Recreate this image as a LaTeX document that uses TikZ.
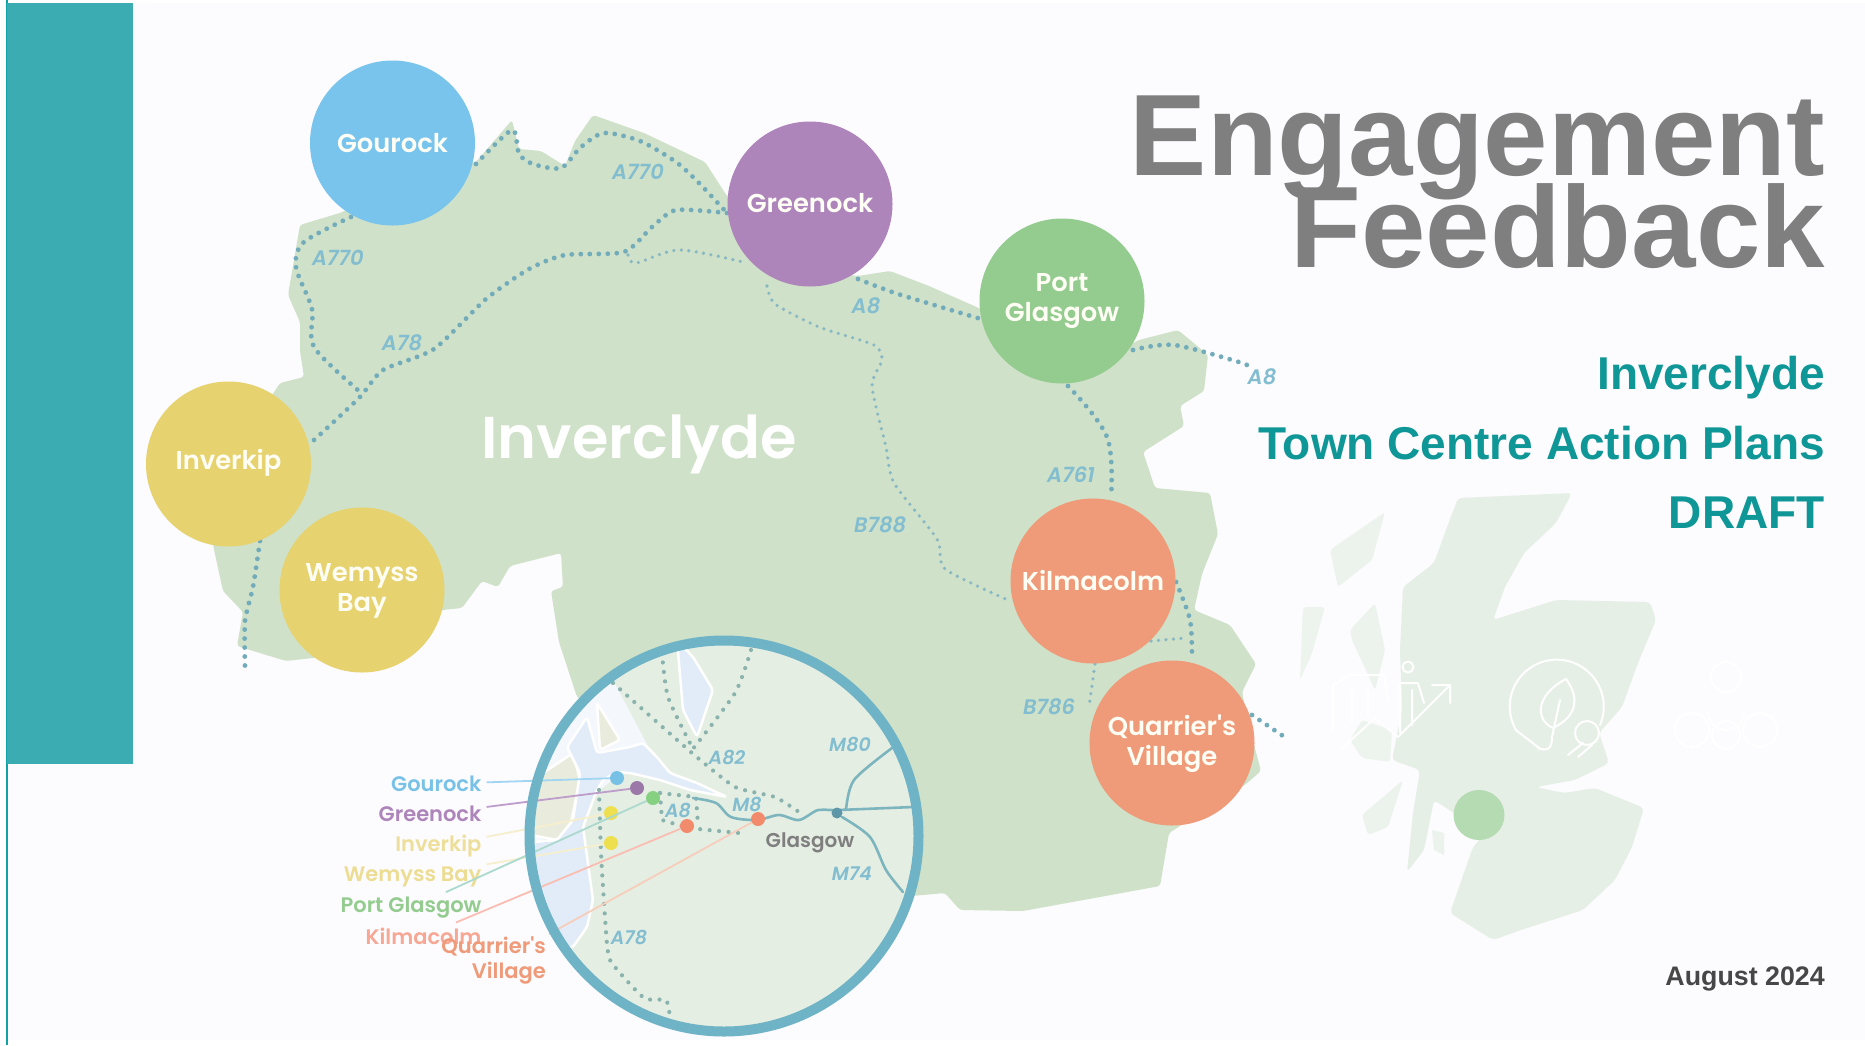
\documentclass[tikz,border=0pt]{standalone}
\usepackage{fontspec}
\setmainfont{Liberation Sans}
\newfontfamily\mapfont{Poppins}[BoldFont={Poppins SemiBold},BoldItalicFont={Poppins SemiBold Italic}]
\usetikzlibrary{shapes.geometric}
\definecolor{bgc}{HTML}{FCFBFE}
\definecolor{tealbar}{HTML}{3AACB2}
\definecolor{tealline}{HTML}{0FA3A8}
\definecolor{landc}{HTML}{CFE1C8}
\definecolor{insetc}{HTML}{E5EEE3}
\definecolor{waterc}{HTML}{E2ECF8}
\definecolor{patchc}{HTML}{E9ECDD}
\definecolor{ringc}{HTML}{6FB3C6}
\definecolor{roadc}{HTML}{72ABBA}
\definecolor{inroadc}{HTML}{8AB3AE}
\definecolor{motorc}{HTML}{7DB5BE}
\definecolor{roadt}{HTML}{82BDD0}
\definecolor{scot}{HTML}{E6EFE6}
\definecolor{gou}{HTML}{79C4EC}
\definecolor{gre}{HTML}{AD85BB}
\definecolor{por}{HTML}{94CC8F}
\definecolor{inv}{HTML}{E6D26F}
\definecolor{kil}{HTML}{EF9A78}
\definecolor{titlegrey}{HTML}{7F7F7F}
\definecolor{subteal}{HTML}{0F9696}
\tikzset{
  town/.style={circle,minimum size=165pt,inner sep=0pt},
  townlabel/.style={inner sep=0pt,align=center,text=white!96!yellow,font=\mapfont\bfseries\fontsize{25.8}{30}\selectfont},
  road/.style={draw=roadc,line width=4.8pt,line cap=round,dash pattern=on 0pt off 9pt},
  thinroad/.style={draw=roadc!85!white,line width=3.6pt,line cap=round,dash pattern=on 0pt off 7.5pt},
  inroad/.style={draw=inroadc,line width=4.2pt,line cap=round,dash pattern=on 0pt off 9.5pt},
  motorway/.style={draw=motorc,line width=2.6pt,line cap=round,line join=round},
  roadname/.style={text=roadt,font=\mapfont\bfseries\itshape\fontsize{21}{24}\selectfont,inner sep=0pt},
  inname/.style={roadname,font=\mapfont\bfseries\itshape\fontsize{19}{22}\selectfont},
  mapname/.style={anchor=east,inner sep=5pt,font=\mapfont\bfseries\fontsize{21}{25}\selectfont},
  leader/.style={line width=1.8pt},
  spot/.style={circle,minimum size=14pt,inner sep=0pt},
  titletext/.style={anchor=base east,inner sep=0pt,text=titlegrey,font=\bfseries\fontsize{115.8}{116}\selectfont},
  subtext/.style={anchor=base east,inner sep=0pt,text=subteal,font=\bfseries\fontsize{46}{46}\selectfont},
  icon/.style={draw=white,line width=2pt,line cap=round,line join=round},
}
\begin{document}
\begin{tikzpicture}[x=1pt,y=-1pt]
\useasboundingbox (0,0) rectangle (1865,1045);
\fill[white] (0,0) rectangle (1865,1045);
\fill[bgc] (7,3) rectangle (1865,1040);
\fill[tealline] (6,0) rectangle (8.3,1045);
\fill[tealbar] (7,3) rectangle (133,763.5);

% Scotland
\fill[scot,rounded corners=4pt] (1458,498) -- (1572,493) -- (1556,523) -- (1524,553) -- (1505,587) -- (1493,620) -- (1556,600) -- (1650,602) -- (1656,620) -- (1638,663) -- (1622,707) -- (1599,733) -- (1609,763) -- (1575,780) -- (1536,787) -- (1564,793) -- (1595,788) -- (1644,808) -- (1632,847) -- (1615,880) -- (1583,910) -- (1521,930) -- (1493,940) -- (1450,913) -- (1473,847) -- (1481,838) -- (1454,813) -- (1434,800) -- (1424,850) -- (1407,872) -- (1413,813) -- (1420,770) -- (1392,760) -- (1402,710) -- (1400,650) -- (1403,587) -- (1434,563) -- (1446,530) -- cycle;
\fill[scot!75!white,rounded corners=3pt] (1330,550) -- (1385,512) -- (1372,560) -- (1338,587) -- cycle;
\fill[scot!70!white,rounded corners=3pt] (1303,607) -- (1325,607) -- (1312,653) -- (1300,680) -- cycle;
\fill[scot!75!white,rounded corners=3pt] (1350,630) -- (1375,603) -- (1385,650) -- (1375,690) -- (1352,640) -- cycle;
\fill[scot!75!white,rounded corners=3pt] (1362,815) -- (1403,780) -- (1388,827) -- (1368,835) -- cycle;
\fill[scot!75!white] (1432,830) -- (1444,833) -- (1444,855) -- (1434,850) -- cycle;
\fill[scot!70!white,rounded corners=3pt] (1350,740) -- (1362,720) -- (1392,730) -- (1390,762) -- (1362,758) -- cycle;
\fill[por!70!white] (1479,815) ellipse (25.5 and 25);

% icons
\draw[icon] (1340,750) -- (1375,718) -- (1398,737) -- (1450,685) (1432,685) -- (1450,685) -- (1450,703);
\draw[icon] (1408,667) circle (5.5);
\draw[icon] (1400,733) -- (1400,683) -- (1418,683) -- (1424,703) (1412,690) -- (1412,725);
\draw[icon] (1333,730) -- (1333,685) -- (1350,675) -- (1384,675) -- (1388,700);
\draw[icon] (1352,722) -- (1352,690) (1368,715) -- (1368,690);
\draw[icon] (1600,725) arc (23:-210:47) .. controls (1535,745) and (1545,752) .. (1538,748) .. controls (1548,752) and (1552,748) .. (1552,737);
\draw[icon] (1566,679) .. controls (1578,695) and (1580,715) .. (1553,728) .. controls (1535,720) and (1535,695) .. (1566,679) -- cycle;
\draw[icon] (1560,700) -- (1552,737);
\draw[icon] (1587,733) circle (12);
\draw[icon] (1583,743) -- (1568,755) (1592,745) -- (1578,757);
\draw[icon] (1726,677) circle (15);
\draw[icon] (1708,712) arc (180:0:18);
\draw[icon] (1692,730) circle (17);
\draw[icon] (1760,730) circle (17);
\draw[icon] (1726,735) circle (14);

% Inverclyde land
\fill[landc,rounded corners=3pt] (476,162) -- (512,120) -- (519,149) -- (541,151) -- (565,166) -- (575,141) -- (593,115) -- (644,133) -- (705,162) -- (727,196) -- (810,270) -- (858,276) -- (890,271) -- (929,286) -- (981,309) -- (1062,380) -- (1139,340) -- (1178,330) -- (1208,355) -- (1204,391) -- (1180,406) -- (1184,426) -- (1143,452) -- (1155,488) -- (1210,493) -- (1218,534) -- (1202,574) -- (1194,610) -- (1230,625) -- (1256,664) -- (1242,692) -- (1250,730) -- (1261,771) -- (1246,784) -- (1169,833) -- (1160,886) -- (1100,897) -- (1023,911) -- (960,910) -- (945,893) -- (900,897) -- (700,800) -- (577,697) -- (559,642) -- (551,591) -- (563,587) -- (561,553) -- (510,566) -- (498,587) -- (482,581) -- (462,608) -- (442,610) -- (380,650) -- (304,659) -- (286,661) -- (237,646) -- (243,612) -- (223,591) -- (213,545) -- (228,463) -- (280,383) -- (304,377) -- (300,351) -- (300,322) -- (288,295) -- (300,225) -- (343,212) -- (392,180) -- cycle;

% main roads
\draw[road] plot[smooth,tension=0.45] coordinates {(476,164) (512,130) (519,154) (533,164) (561,168) (581,147) (604,133) (640,141) (676,162) (699,183) (727,213)};
\draw[road] plot[smooth,tension=0.4] coordinates {(727,213) (676,210) (652,227) (624,252) (565,255) (529,269) (486,299) (434,349) (383,370) (359,398) (314,440)};
\draw[road] plot[smooth,tension=0.5] coordinates {(351,217) (304,242) (296,267) (312,309) (314,347) (359,391)};
\draw[thinroad] plot[smooth,tension=0.5] coordinates {(628,255) (636,263) (680,250) (747,263)};
\draw[thinroad] plot[smooth,tension=0.4] coordinates {(767,286) (775,304) (819,327) (874,345) (882,360) (872,386) (886,447) (894,483) (937,539) (945,569) (1008,600)};
\draw[road] plot[smooth,tension=0.4] coordinates {(858,279) (898,294) (981,319)};
\draw[road] plot[smooth,tension=0.5] coordinates {(1133,350) (1174,345) (1242,363) (1248,368)};
\draw[road] plot[smooth,tension=0.6] coordinates {(1068,386) (1107,437) (1111,498)};
\draw[road] plot[smooth,tension=0.5] coordinates {(1176,582) (1190,620) (1192,659)};
\draw[thinroad] plot[smooth] coordinates {(1095,664) (1089,707)};
\draw[thinroad] plot[smooth] coordinates {(1151,641) (1186,638)};
\draw[road] (1252,715) -- (1289,740);
\draw[road] plot[smooth,tension=0.4] coordinates {(260,541) (253,587) (245,621) (245,667)};

% road names
\node[roadname] at (638,172) {A770};
\node[roadname] at (338,258) {A770};
\node[roadname] at (402,343) {A78};
\node[roadname] at (866,306) {A8};
\node[roadname] at (1262,377) {A8};
\node[roadname] at (1071,475) {A761};
\node[roadname] at (880,525) {B788};
\node[roadname] at (1049,707) {B786};

\node[text=white,font=\mapfont\bfseries\fontsize{59}{62}\selectfont,inner sep=0pt] at (639,444) {Inverclyde};

% towns
\node[town,fill=gou] (gourock) at (392.5,143) {};
\node[town,fill=gre] (greenock) at (810,204) {};
\node[town,fill=por] (portg) at (1062,301) {};
\node[town,fill=inv] (inverkip) at (228.5,464) {};
\node[town,fill=inv] (wemyss) at (362,590) {};
\node[town,fill=kil] (kilmacolm) at (1093,581) {};
\node[town,fill=kil] (quarrier) at (1172,743) {};
\node[townlabel] at ([yshift=-0.5pt]gourock) {Gourock};
\node[townlabel] at ([yshift=0.5pt]greenock) {Greenock};
\node[townlabel] at ([yshift=-0.5pt]portg) {Port\\Glasgow};
\node[townlabel] at ([yshift=1pt]inverkip) {Inverkip};
\node[townlabel] at ([yshift=-1pt]wemyss) {Wemyss\\Bay};
\node[townlabel] at ([yshift=0.5pt]kilmacolm) {Kilmacolm};
\node[townlabel] at ([yshift=-0.5pt]quarrier) {Quarrier's\\Village};

% inset
\fill[insetc] (724,836) ellipse (197 and 198);
\begin{scope}
\clip (724,836) ellipse (197 and 198);
\fill[white!60!waterc] (520,700) -- (613,680) -- (650,750) -- (600,790) -- (520,860) -- cycle;
\fill[patchc,draw=white,line width=2.5pt,rounded corners=3pt] (597,703) -- (620,740) -- (600,750) -- cycle;
\fill[patchc,draw=white,line width=2.5pt,rounded corners=3pt] (520,773) -- (543,773) -- (573,753) -- (580,780) -- (570,827) -- (557,840) -- (520,833) -- cycle;
\fill[waterc,draw=white,line width=2.5pt,line join=round,rounded corners=3pt] (520,843) -- (557,840) -- (573,820) -- (580,773) -- (567,747) -- (587,717) -- (597,753) -- (630,747) -- (643,743) -- (657,757) -- (670,773) -- (697,783) -- (727,797) -- (690,790) -- (660,780) -- (630,773) -- (617,772) -- (603,780) -- (597,790) -- (583,827) -- (593,900) -- (587,927) -- (573,947) -- (560,950) -- (530,920) -- (520,873) -- cycle;
\fill[waterc,draw=white,line width=2.5pt,line join=round,rounded corners=3pt] (677,640) -- (693,657) -- (713,690) -- (697,737) -- (683,710) -- cycle;
\draw[inroad] plot[smooth,tension=0.3] coordinates {(599,790) (601,853) (605,917) (610,960) (644,998) (666,1000) (670,1017)};
\draw[inroad] plot[smooth,tension=0.3] coordinates {(613,683) (692,753) (735,787) (775,797) (799,812)};
\draw[inroad] plot[smooth,tension=0.4] coordinates {(662,653) (668,697) (692,747)};
\draw[inroad] plot[smooth,tension=0.4] coordinates {(751,650) (735,693) (692,750)};
\draw[inroad] (660,793) -- (696,797) -- (698,825);
\draw[inroad] (660,793) -- (662,820) -- (688,828) -- (739,833);
\draw[motorway] plot[smooth,tension=0.5] coordinates {(693,798) (716,803) (731,817) (757,820) (779,815) (799,820) (818,810) (837,810) (913,807)};
\draw[motorway] plot[smooth,tension=0.5] coordinates {(846,810) (854,780) (892,748)};
\draw[motorway] plot[smooth,tension=0.5] coordinates {(842,817) (870,837) (886,870) (903,892)};
\end{scope}

% inset place spots
\node[spot,fill=gou!85!ringc] (dG) at (617,778) {};
\node[spot,fill=gre!90!black] (dH) at (637,788) {};
\node[spot,fill=por!90!green] (dP) at (653,798) {};
\node[spot,fill=inv!70!yellow] (dI) at (611,813) {};
\node[spot,fill=inv!70!yellow] (dW) at (611,843) {};
\node[spot,fill=kil!90!red] (dK) at (687,826) {};
\node[spot,fill=kil!90!red] (dQ) at (758,819) {};
\node[spot,fill=ringc!85!black,minimum size=11pt] (dC) at (837,813) {};

% inset labels
\node[mapname,text=gou!90!roadc] (lG) at (486.6,784) {Gourock};
\node[mapname,text=gre] (lH) at (486.6,814) {Greenock};
\node[mapname,text=inv!70!white] (lI) at (486.6,846) {Inverkip};
\node[mapname,text=inv!75!white] (lW) at (486.6,877) {Wemyss Bay};
\node[mapname,text=por] (lP) at (486.6,908) {Port Glasgow};
\node[mapname,text=kil!85!red!70!white] (lK) at (486.6,936) {Kilmacolm};
\node[mapname,text=kil,anchor=north east,align=right,inner sep=3pt] (lQ) at (549,934) {Quarrier's\\Village};
\draw[leader,gou!70!white] (lG) -- (dG);
\draw[leader,gre!80!white] (lH) -- (dH);
\draw[leader,inv!35!white] (lI) -- (dI);
\draw[leader,inv!35!white] (lW) -- (dW);
\draw[leader,por!55!gou!70!white] (lP) -- (dP);
\draw[leader,kil!70!red!45!white] (lK) -- (dK);
\draw[leader,kil!50!white] (lQ.north east) -- (dQ);

\draw[ringc,line width=10pt] (724,836) ellipse (194.5 and 195.5);

\node[inname] at (727,757) {A82};
\node[inname] at (850,744) {M80};
\node[inname] at (747,804) {M8};
\node[inname] at (678,810) {A8};
\node[inname] at (852,874) {M74};
\node[inname] at (629,937) {A78};
\node[text=titlegrey,font=\mapfont\bfseries\fontsize{20}{24}\selectfont,inner sep=0pt] at (810,843) {Glasgow};

% titles
\node[titletext] at (1825,175) {Engagement};
\node[titletext] at (1825,267) {Feedback};
\node[subtext] at (1825,389) {Inverclyde};
\node[subtext] at (1825,459) {Town Centre Action Plans};
\node[subtext] at (1825,528) {DRAFT};
\node[anchor=base east,inner sep=0pt,text=black!72,font=\bfseries\fontsize{26.8}{30}\selectfont] at (1825,985) {August 2024};
\end{tikzpicture}
\end{document}
